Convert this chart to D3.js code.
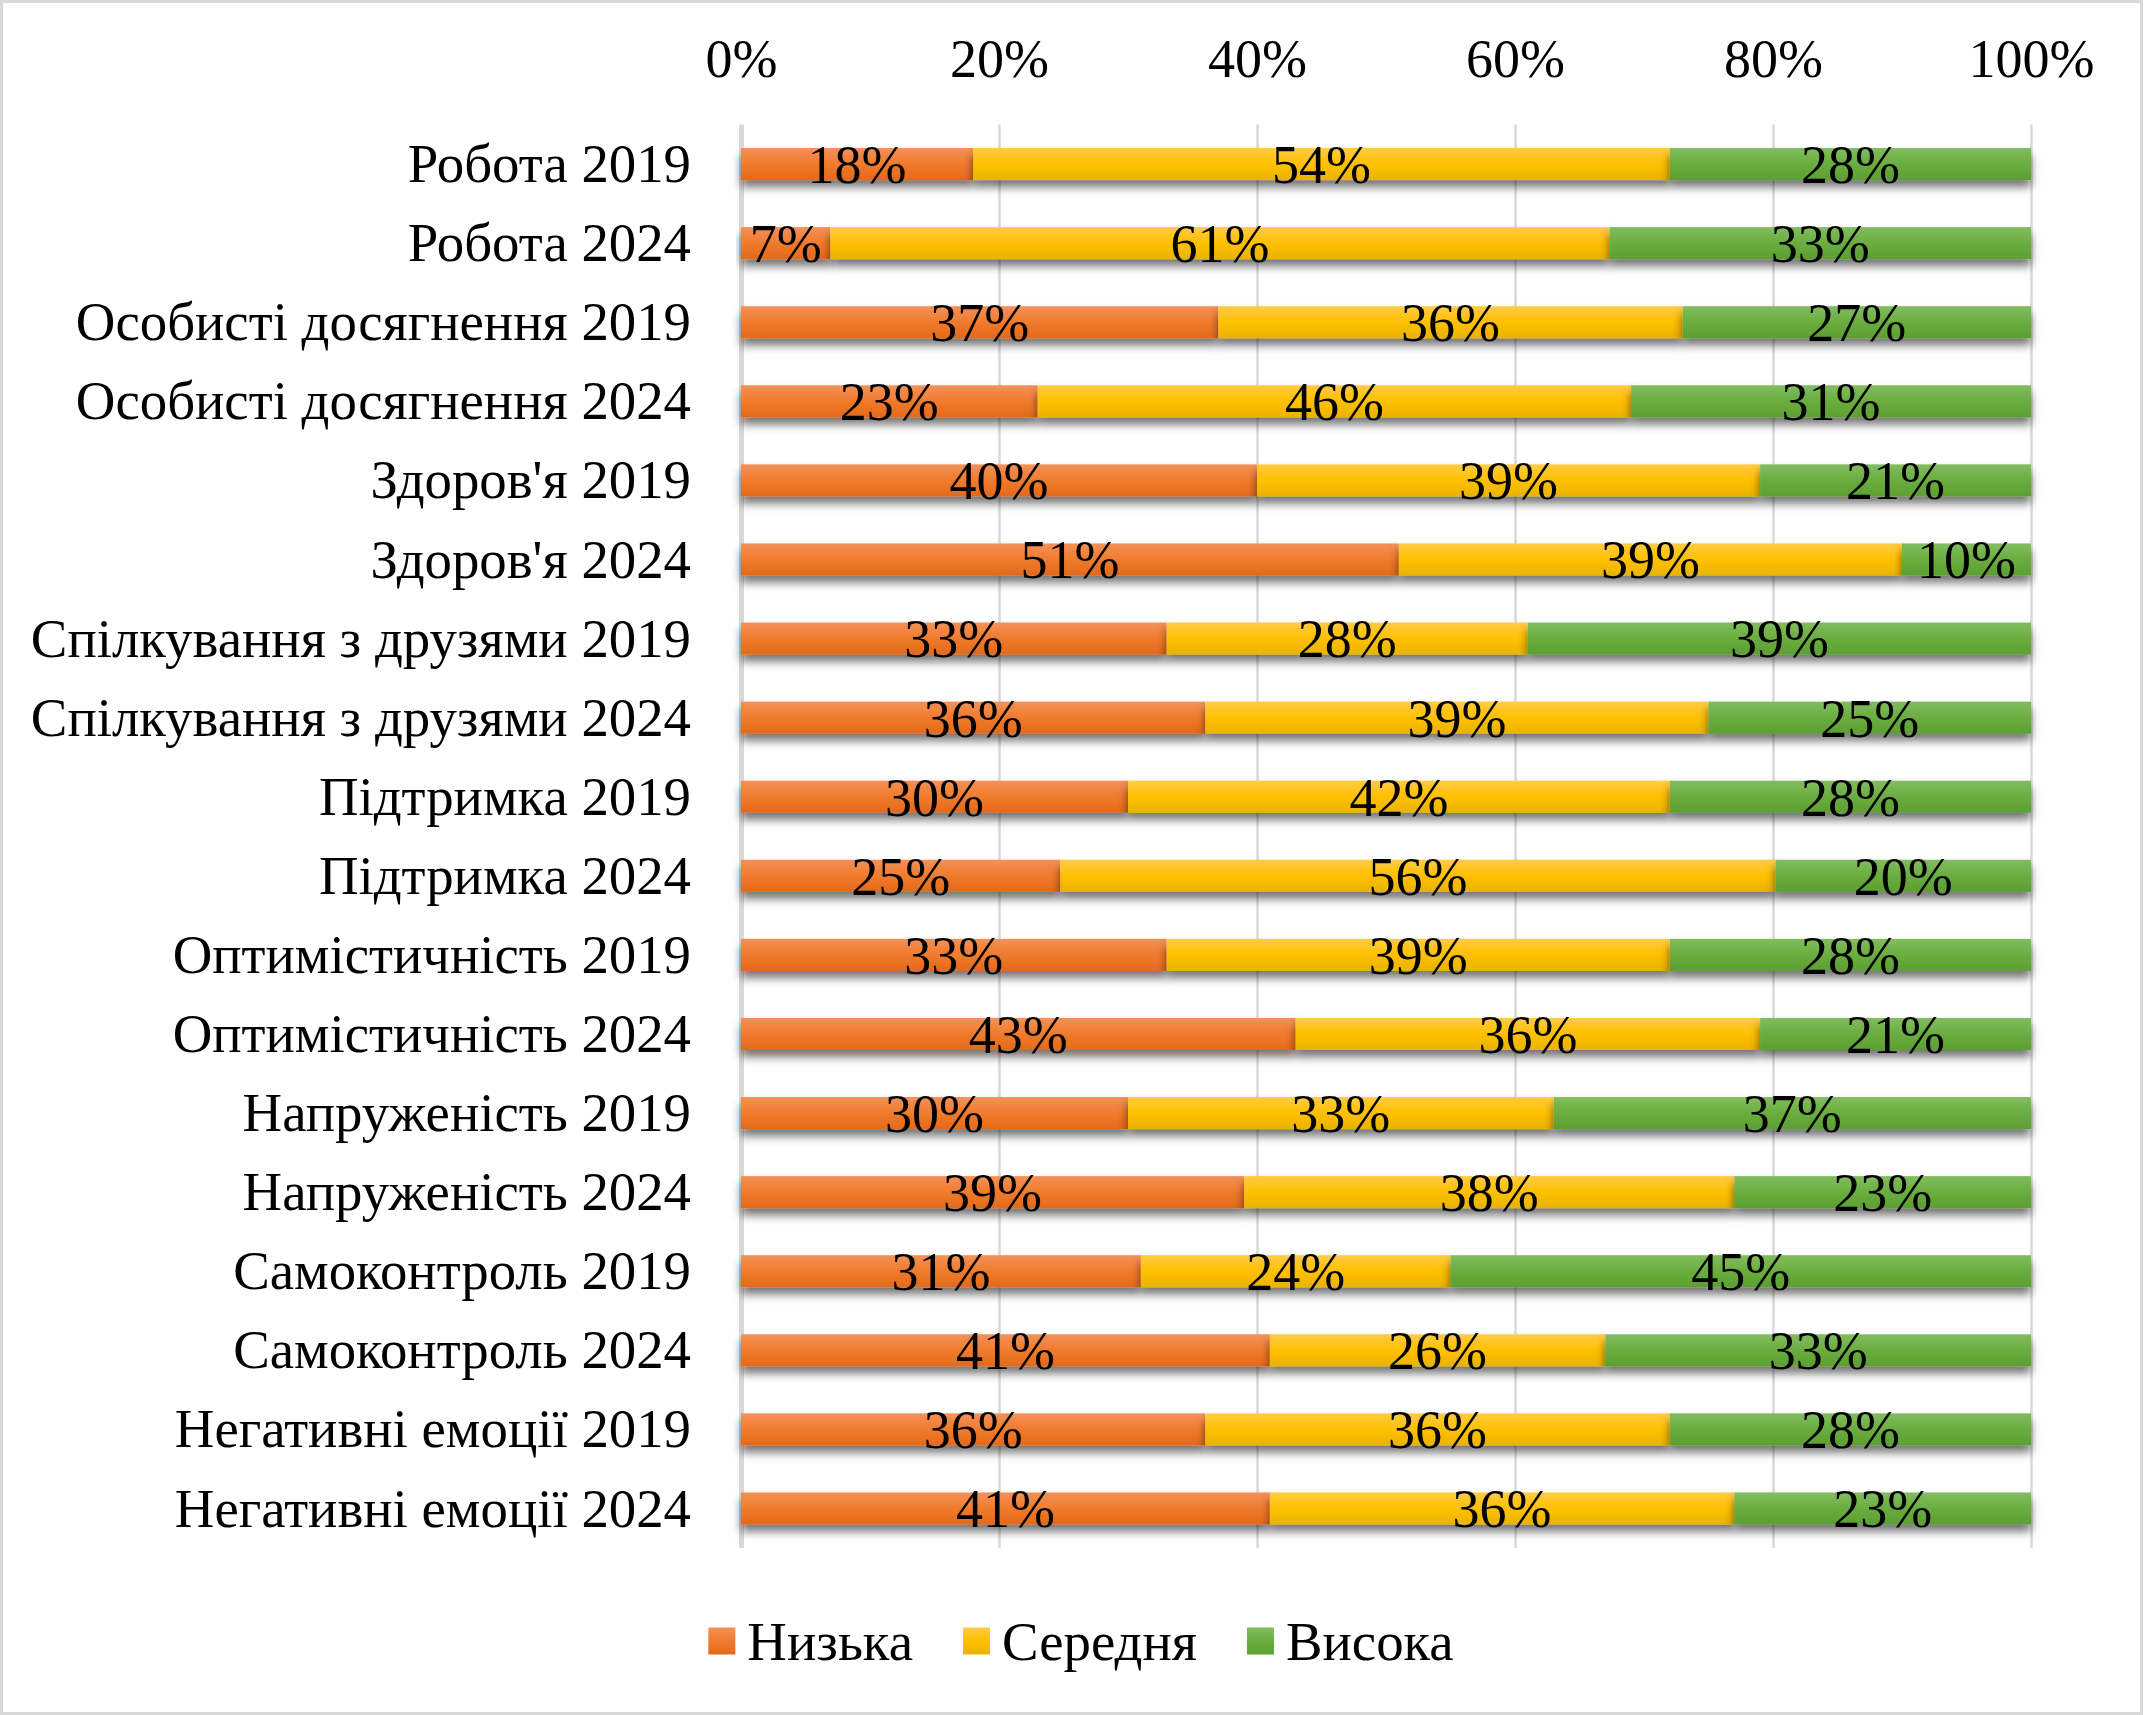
<!DOCTYPE html>
<html>
<head>
<meta charset="utf-8">
<script src="https://cdn.jsdelivr.net/npm/d3@7"></script>
<style>
  body { margin: 0; background: #fff; }
  text { font-family: "Liberation Serif", "Times New Roman", serif; fill: #000; }
</style>
</head>
<body>
<div id="chart"></div>
<script>
/* DATA */
const categories = [
  "Робота 2019", "Робота 2024",
  "Особисті досягнення 2019", "Особисті досягнення 2024",
  "Здоров'я 2019", "Здоров'я 2024",
  "Спілкування з друзями 2019", "Спілкування з друзями 2024",
  "Підтримка 2019", "Підтримка 2024",
  "Оптимістичність 2019", "Оптимістичність 2024",
  "Напруженість 2019", "Напруженість 2024",
  "Самоконтроль 2019", "Самоконтроль 2024",
  "Негативні емоції 2019", "Негативні емоції 2024"
];
const low  = [18, 7, 37, 23, 40, 51, 33, 36, 30, 25, 33, 43, 30, 39, 31, 41, 36, 41];
const mid  = [54, 61, 36, 46, 39, 39, 28, 39, 42, 56, 39, 36, 33, 38, 24, 26, 36, 36];
const high = [28, 33, 27, 31, 21, 10, 39, 25, 28, 20, 28, 21, 37, 23, 45, 33, 28, 23];
const seriesNames = ["Низька", "Середня", "Висока"];
const xTicks = [0, 0.2, 0.4, 0.6, 0.8, 1];

/* CONSTANTS */
const width = 2146,
  height = 1715,
  margin = { top: 124.5, bottom: 167, left: 741, right: 115 },
  fontSize = 54,
  catFontSize = 54.8;

const colors = {
  "Низька":  ["#f4915a", "#f07b2c", "#e3691b"],
  "Середня": ["#ffcb45", "#ffc000", "#e9b300"],
  "Висока":  ["#82bd60", "#6aad3f", "#5c9f32"]
};

// table for the stack layout
const rows = categories.map((c, i) => ({
  category: c,
  "Низька": low[i],
  "Середня": mid[i],
  "Висока": high[i]
}));

// 100% stacked: each row is scaled to its own total
const stacked = d3.stack()
  .keys(seriesNames)
  .offset(d3.stackOffsetExpand)(rows);

/* SVG */
const svg = d3.select("#chart")
  .append("svg")
  .attr("width", width)
  .attr("height", height);

// outer border like the Excel chart area
svg.append("rect")
  .attr("x", 1.5).attr("y", 1.5)
  .attr("width", width - 6).attr("height", height - 3)
  .attr("fill", "#fff")
  .attr("stroke", "#d9d9d9")
  .attr("stroke-width", 3);

const defs = svg.append("defs");

seriesNames.forEach((name, i) => {
  const g = defs.append("linearGradient")
    .attr("id", "grad" + i)
    .attr("x1", 0).attr("y1", 0).attr("x2", 0).attr("y2", 1);
  g.append("stop").attr("offset", "0%").attr("stop-color", colors[name][0]);
  g.append("stop").attr("offset", "50%").attr("stop-color", colors[name][1]);
  g.append("stop").attr("offset", "100%").attr("stop-color", colors[name][2]);
});

defs.append("filter")
  .attr("id", "shadow")
  .attr("x", "-5%").attr("y", "-20%")
  .attr("width", "110%").attr("height", "200%")
  .append("feDropShadow")
  .attr("dx", 0).attr("dy", 7)
  .attr("stdDeviation", 5)
  .attr("flood-color", "#000")
  .attr("flood-opacity", 0.55);

/* SCALES */
const xScale = d3.scaleLinear()
  .domain([0, 1])
  .range([margin.left, width - margin.right]);

const yScale = d3.scaleBand()
  .domain(categories)
  .range([margin.top, height - margin.bottom])
  .paddingInner(0.595)
  .paddingOuter(0.2975);

/* GRIDLINES */
svg.append("g")
  .attr("class", "grid")
  .attr("transform", `translate(0,${margin.top})`)
  .call(d3.axisBottom(xScale)
    .tickValues(xTicks)
    .tickSize(height - margin.bottom - margin.top)
    .tickFormat(""))
  .call(g => g.select(".domain").remove())
  .call(g => g.selectAll("line")
    .attr("stroke", "#d9d9d9")
    .attr("stroke-width", d => d === 0 ? 5 : 2.5));

/* TOP AXIS LABELS */
svg.append("g")
  .attr("class", "axis x-axis")
  .attr("transform", `translate(0,80)`)
  .call(d3.axisTop(xScale)
    .tickValues(xTicks)
    .tickSize(0)
    .tickPadding(3)
    .tickFormat(d3.format(".0%")))
  .call(g => g.select(".domain").remove())
  .call(g => g.selectAll("text")
    .attr("font-size", fontSize)
    .attr("font-family", "Liberation Serif"));

/* CATEGORY AXIS LABELS */
svg.append("g")
  .attr("class", "axis y-axis")
  .attr("transform", `translate(${margin.left},0)`)
  .call(d3.axisLeft(yScale).tickSize(0).tickPadding(50))
  .call(g => g.select(".domain").remove())
  .call(g => g.selectAll("text")
    .attr("font-size", catFontSize)
    .attr("font-family", "Liberation Serif")
    .attr("dy", "0.33em"));

/* BARS */
const layers = svg.append("g")
  .selectAll("g.layer")
  .data(stacked)
  .join("g")
  .attr("class", "layer")
  .attr("fill", (d, i) => `url(#grad${i})`);

layers.selectAll("rect")
  .data(d => d)
  .join("rect")
  .attr("x", d => xScale(d[0]))
  .attr("y", d => yScale(d.data.category))
  .attr("width", d => xScale(d[1]) - xScale(d[0]))
  .attr("height", yScale.bandwidth())
  .attr("filter", "url(#shadow)");

/* VALUE LABELS */
const labels = svg.append("g").attr("class", "labels");
stacked.forEach(layer => {
  labels.selectAll(null)
    .data(layer)
    .join("text")
    .attr("x", d => (xScale(d[0]) + xScale(d[1])) / 2)
    .attr("y", d => yScale(d.data.category) + yScale.bandwidth() / 2)
    .attr("dy", "0.35em")
    .attr("text-anchor", "middle")
    .attr("font-size", fontSize)
    .text(d => d.data[layer.key] + "%");
});

/* LEGEND */
const legendY = 1641,
  swatch = 27;
const legend = svg.append("g").attr("class", "legend");
const items = legend.selectAll("g")
  .data(seriesNames)
  .join("g");
items.append("rect")
  .attr("y", legendY - swatch / 2)
  .attr("width", swatch)
  .attr("height", swatch)
  .attr("fill", (d, i) => `url(#grad${i})`);
items.append("text")
  .attr("x", swatch + 12)
  .attr("y", legendY)
  .attr("dy", "0.35em")
  .attr("font-size", catFontSize)
  .text(d => d);

// lay the legend items out side by side, centred under the chart
let offset = 0;
const positions = [];
items.each(function() {
  const w = swatch + 12 + d3.select(this).select("text").node().getComputedTextLength();
  positions.push(offset);
  offset += w + 50;
});
const legendWidth = offset - 50;
const legendStart = 1081 - legendWidth / 2;
items.attr("transform", (d, i) => `translate(${legendStart + positions[i]},0)`);
</script>
</body>
</html>
